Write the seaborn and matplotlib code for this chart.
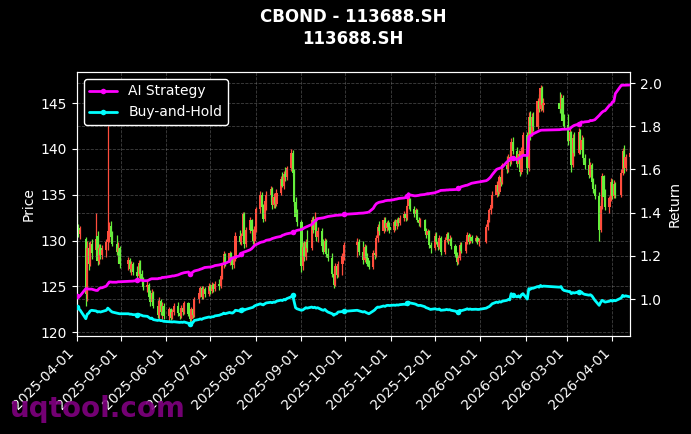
import matplotlib
matplotlib.use("Agg")
import matplotlib.pyplot as plt
import matplotlib.dates as mdates
import seaborn as sns
import pandas as pd
import numpy as np

# ---------------- data ----------------
title_text = "CBOND - 113688.SH\n113688.SH"
start_date = "2025-04-01"
end_date = "2026-04-13"
holidays = ["2025-04-04", "2025-05-01", "2025-05-02", "2025-05-05", "2025-06-02",
            "2025-10-01", "2025-10-02", "2025-10-03", "2025-10-06", "2025-10-07", "2025-10-08",
            "2026-01-01", "2026-01-02",
            "2026-02-16", "2026-02-17", "2026-02-18", "2026-02-19", "2026-02-20", "2026-02-23",
            "2026-04-06"]

opens = [
    132.2,131.4,130.7,130.2,124.2,129.2,127.5,129.6,129.0,130.5,127.8,129.2,128.4,129.0,129.8,131.0,131.6,130.4,129.6,128.8,129.2,
    127.4,127.9,126.9,127.5,126.6,126.1,127.6,126.4,125.6,124.9,125.2,123.9,123.3,124.3,122.9,121.9,123.4,122.2,122.9,
    121.8,122.5,121.6,122.2,122.9,122.1,121.8,122.7,122.2,123.2,122.0,121.4,122.5,121.9,123.6,124.3,124.8,123.9,124.7,124.2,
    125.1,124.5,125.2,124.7,125.3,125.0,126.1,127.3,128.5,127.6,128.6,127.8,127.3,128.0,130.5,129.9,130.5,132.9,129.6,131.2,132.2,131.0,130.0,
    131.2,133.4,135.0,133.7,132.4,134.3,135.0,135.6,133.9,134.8,134.0,135.2,136.7,136.0,137.3,136.9,137.9,139.6,137.4,134.2,132.6,
    132.0,127.2,129.3,128.2,129.8,129.2,132.2,131.2,132.4,130.4,131.1,129.4,128.8,130.0,128.5,128.1,126.4,125.2,127.2,126.3,127.5,128.3,
    129.5,129.9,128.8,127.9,129.3,128.1,127.5,127.1,128.7,128.4,130.3,131.5,131.0,132.3,131.4,131.9,131.5,
    131.2,132.0,131.6,132.2,131.9,132.5,132.9,132.5,133.8,134.5,133.5,132.9,133.3,132.3,131.9,132.2,131.1,130.6,131.0,129.5,
    129.2,130.5,129.9,129.3,130.3,128.8,130.1,130.7,130.0,130.2,129.4,128.5,127.7,128.1,129.5,128.9,129.9,130.6,129.9,130.4,130.0,130.3,129.8,
    129.9,131.5,132.3,133.3,133.9,135.0,136.1,135.3,136.9,136.4,138.2,137.8,139.1,138.6,140.8,139.8,138.4,139.5,137.5,139.8,
    141.5,137.9,143.5,141.6,143.5,142.4,145.2,144.4,146.6,144.8,145.0,144.4,145.6,143.0,
    142.6,140.9,141.8,138.3,141.2,139.6,141.8,139.9,141.0,139.0,138.3,137.2,138.2,136.4,135.6,134.9,131.2,133.8,137.0,134.8,133.7,134.6,
    136.4,134.9,136.2,135.0,137.4,139.8,137.9,139.1,
]
highs = [
    132.8,131.8,131.6,130.4,130.0,129.8,130.0,130.2,133.0,131.0,129.6,129.6,129.5,130.2,142.6,132.0,132.1,131.0,130.6,129.8,129.4,
    128.2,128.1,127.8,127.7,127.2,127.9,127.9,126.8,126.0,125.6,125.4,124.6,124.7,124.5,123.5,123.8,123.6,123.3,123.2,
    122.8,122.7,122.5,123.2,123.3,122.6,123.0,123.1,123.4,123.3,122.4,122.8,122.7,123.9,124.6,125.1,125.0,125.0,124.9,125.4,
    125.3,125.5,125.4,125.6,125.8,126.4,127.6,128.9,128.7,128.9,128.8,128.2,128.4,130.9,131.2,130.8,133.1,133.1,131.5,132.6,132.4,131.3,131.6,
    133.7,135.4,135.3,134.0,134.6,135.4,136.0,135.8,135.2,135.0,135.6,137.0,137.5,137.6,138.0,138.2,140.0,139.9,137.8,134.8,133.5,
    132.3,129.8,130.0,130.2,131.2,132.6,132.7,133.1,132.6,131.5,131.4,130.2,130.3,130.2,129.2,128.7,126.6,127.6,127.5,127.8,128.6,129.8,
    130.3,130.2,130.0,129.6,129.5,128.6,127.9,129.0,129.2,130.6,131.8,132.2,132.6,132.6,132.2,132.3,132.0,
    132.3,132.4,132.5,132.6,132.8,133.2,133.0,134.0,134.8,134.7,133.8,133.6,133.5,132.6,132.5,132.4,131.4,131.3,131.2,129.9,
    130.8,130.9,130.3,130.6,130.5,130.4,130.9,130.9,130.6,130.4,129.6,128.8,128.4,129.8,129.8,130.2,130.9,130.8,130.7,130.6,130.6,130.5,130.3,
    131.8,132.6,133.6,134.2,135.4,136.5,136.4,137.2,137.6,138.5,139.2,139.5,139.9,141.2,141.3,140.2,139.9,139.7,140.2,141.9,
    141.8,144.0,144.2,143.9,144.0,145.6,146.0,147.0,146.9,145.6,146.2,146.0,145.9,143.8,
    143.8,142.2,142.0,141.6,141.8,142.3,142.2,141.5,141.3,139.5,139.0,138.6,138.5,136.8,136.2,135.3,134.2,137.4,137.2,135.6,134.9,136.8,
    136.7,136.6,136.4,137.8,140.1,140.4,139.5,140.2,
]
lows = [
    131.0,130.4,130.2,122.9,123.4,126.8,127.2,128.0,128.2,127.3,127.4,128.0,128.0,128.2,129.0,129.8,130.0,129.4,128.4,127.6,127.0,
    126.8,126.6,126.2,126.3,125.8,125.9,126.0,125.3,124.6,124.4,123.6,122.9,123.0,122.6,121.6,121.5,121.9,121.4,121.5,
    121.2,121.3,121.4,121.9,121.8,121.5,121.6,121.9,122.0,121.8,121.1,121.2,121.6,121.7,123.2,123.8,123.6,123.6,123.9,124.0,
    124.2,124.3,124.4,124.5,124.6,124.8,125.8,127.0,127.2,127.3,127.4,126.9,127.0,127.8,129.6,129.5,130.2,129.2,129.3,130.8,130.6,129.6,129.6,
    130.9,133.0,133.3,132.0,132.2,133.3,134.2,133.5,133.6,133.6,133.8,135.0,135.8,135.6,136.5,136.6,137.6,137.0,133.8,132.1,131.6,
    126.6,126.8,127.8,127.9,128.8,129.0,130.8,130.9,130.0,129.8,129.0,128.5,128.6,128.2,127.8,126.0,124.8,125.0,125.9,126.0,126.3,127.9,
    128.2,128.4,127.5,127.7,127.8,127.2,126.9,126.9,128.0,128.2,129.9,130.6,130.8,131.0,131.0,131.2,130.8,
    130.9,131.2,131.3,131.6,131.7,132.2,132.2,132.3,133.5,133.2,132.6,132.5,132.0,131.6,131.5,130.8,130.3,130.2,129.2,128.7,
    129.0,129.6,129.0,129.1,128.4,128.5,129.8,129.6,129.5,129.1,128.2,127.3,127.4,127.9,128.6,128.7,129.6,129.6,129.7,129.7,129.8,129.6,129.4,
    129.7,131.2,132.0,132.9,133.6,134.8,134.9,135.1,136.0,136.2,137.4,137.5,138.2,138.4,139.4,138.0,137.8,137.1,137.3,139.5,
    137.3,137.6,141.0,141.4,142.0,142.2,144.0,144.2,144.3,144.0,143.9,144.0,142.5,142.3,
    140.4,140.6,137.5,138.0,139.2,139.4,139.5,139.7,138.6,137.8,136.8,136.9,136.0,135.2,134.5,130.0,130.9,133.5,134.4,133.3,133.0,134.3,
    134.5,134.6,134.6,134.8,137.2,137.4,137.6,138.3,
]
closes = [
    131.4,130.7,131.2,124.2,129.2,127.5,129.6,128.6,130.2,127.8,129.2,128.4,129.0,129.8,131.0,131.6,130.4,129.6,128.8,129.2,127.4,
    127.9,126.9,127.5,126.6,126.1,127.6,126.4,125.6,124.9,125.2,123.9,123.3,124.3,122.9,121.9,123.4,122.2,122.9,121.8,
    122.5,121.6,122.2,122.9,122.1,121.8,122.7,122.2,123.2,122.0,121.4,122.5,121.9,123.6,124.3,124.8,123.9,124.7,124.2,125.1,
    124.5,125.2,124.7,125.3,125.0,126.1,127.3,128.5,127.6,128.6,127.8,127.3,128.0,130.5,129.9,130.5,132.9,129.6,131.2,132.2,131.0,130.0,131.2,
    133.4,135.0,133.7,132.4,134.3,135.0,135.6,133.9,134.8,134.0,135.2,136.7,136.0,137.3,136.9,137.9,139.6,137.4,134.2,132.6,132.0,
    127.2,129.3,128.2,129.8,129.2,132.2,131.2,132.4,130.4,131.1,129.4,128.8,130.0,128.5,128.1,126.4,125.2,127.2,126.3,127.5,128.3,129.5,
    129.9,128.8,127.9,129.3,128.1,127.5,127.1,128.7,128.4,130.3,131.5,131.0,132.3,131.4,131.9,131.5,131.2,
    132.0,131.6,132.2,131.9,132.5,132.9,132.5,133.8,134.5,133.5,132.9,133.3,132.3,131.9,132.2,131.1,130.6,131.0,129.5,129.2,
    130.5,129.9,129.3,130.3,128.8,130.1,130.7,130.0,130.2,129.4,128.5,127.7,128.1,129.5,128.9,129.9,130.6,129.9,130.4,130.0,130.3,129.8,129.9,
    131.5,132.3,133.3,133.9,135.0,136.1,135.3,136.9,136.4,138.2,137.8,139.1,138.6,140.8,139.8,138.4,139.5,137.5,139.8,141.5,
    137.9,143.5,141.6,143.5,142.4,145.2,144.4,146.6,144.8,145.0,144.4,145.6,143.0,142.6,
    140.9,141.8,138.3,141.2,139.6,141.8,139.9,141.0,139.0,138.3,137.2,138.2,136.4,135.6,134.9,131.2,133.8,137.0,134.8,133.7,134.6,136.4,
    134.9,136.2,135.0,137.4,139.8,137.9,139.1,139.6,
]
ai_strategy = [
    1.014,1.014,1.014,1.048,1.048,1.046,1.046,1.046,1.040,1.040,1.048,1.052,1.052,1.060,1.070,1.079,1.079,1.078,1.078,1.080,1.080,
    1.082,1.082,1.083,1.083,1.086,1.086,1.087,1.087,1.085,1.085,1.088,1.092,1.094,1.094,1.094,1.096,1.096,1.100,1.100,
    1.104,1.105,1.107,1.107,1.112,1.115,1.118,1.120,1.122,1.125,1.118,1.120,1.125,1.130,1.135,1.138,1.140,1.143,1.146,1.148,
    1.148,1.150,1.152,1.155,1.158,1.160,1.162,1.164,1.165,1.175,1.187,1.190,1.192,1.195,1.200,1.210,1.215,1.218,1.220,1.228,1.233,1.240,1.248,
    1.252,1.262,1.264,1.265,1.268,1.272,1.276,1.280,1.282,1.284,1.286,1.290,1.295,1.297,1.300,1.302,1.306,1.310,1.312,1.315,1.318,
    1.322,1.325,1.330,1.333,1.336,1.345,1.352,1.360,1.364,1.372,1.375,1.376,1.378,1.380,1.382,1.385,1.386,1.387,1.388,1.388,1.390,1.392,
    1.396,1.397,1.398,1.399,1.400,1.401,1.403,1.420,1.432,1.441,1.445,1.448,1.452,1.455,1.456,1.457,1.457,
    1.460,1.462,1.463,1.465,1.466,1.468,1.470,1.476,1.488,1.482,1.478,1.478,1.479,1.480,1.482,1.484,1.486,1.488,1.488,1.489,
    1.492,1.495,1.497,1.500,1.503,1.504,1.505,1.505,1.506,1.506,1.507,1.508,1.512,1.516,1.520,1.526,1.527,1.530,1.533,1.536,1.540,1.541,1.542,
    1.548,1.552,1.558,1.565,1.575,1.600,1.603,1.605,1.608,1.611,1.634,1.640,1.645,1.653,1.653,1.645,1.650,1.655,1.660,1.665,
    1.665,1.750,1.755,1.760,1.765,1.775,1.778,1.781,1.782,1.782,1.784,1.785,1.786,1.786,
    1.787,1.788,1.795,1.800,1.804,1.810,1.815,1.820,1.818,1.820,1.822,1.827,1.826,1.828,1.830,1.850,1.858,1.865,1.870,1.872,1.897,1.900,
    1.912,1.915,1.951,1.989,1.990,1.990,1.990,1.991,
]
buy_and_hold = [
    0.963,0.955,0.950,0.909,0.930,0.935,0.945,0.948,0.945,0.940,0.942,0.940,0.942,0.948,0.958,0.952,0.945,0.940,0.935,0.933,0.932,
    0.932,0.930,0.930,0.928,0.927,0.930,0.927,0.925,0.922,0.920,0.915,0.910,0.912,0.905,0.901,0.903,0.900,0.900,0.897,
    0.895,0.894,0.894,0.895,0.893,0.892,0.893,0.892,0.894,0.888,0.886,0.890,0.891,0.901,0.905,0.908,0.906,0.910,0.912,0.917,
    0.915,0.918,0.918,0.922,0.925,0.928,0.930,0.935,0.932,0.938,0.936,0.935,0.940,0.948,0.945,0.948,0.955,0.948,0.952,0.958,0.960,0.962,0.968,
    0.971,0.978,0.975,0.973,0.978,0.982,0.985,0.983,0.986,0.985,0.990,0.995,0.993,0.998,0.996,1.002,1.010,1.018,0.990,0.960,0.955,
    0.948,0.950,0.955,0.960,0.958,0.963,0.960,0.962,0.958,0.960,0.950,0.948,0.952,0.945,0.940,0.932,0.925,0.930,0.932,0.940,0.942,0.943,
    0.948,0.946,0.940,0.942,0.938,0.935,0.932,0.945,0.950,0.958,0.963,0.962,0.968,0.966,0.970,0.971,0.970,
    0.972,0.971,0.973,0.972,0.974,0.976,0.975,0.980,0.986,0.982,0.978,0.976,0.972,0.970,0.971,0.965,0.960,0.958,0.955,0.952,
    0.955,0.953,0.952,0.954,0.948,0.950,0.952,0.950,0.951,0.948,0.944,0.940,0.942,0.948,0.946,0.952,0.955,0.952,0.954,0.952,0.953,0.952,0.952,
    0.958,0.962,0.965,0.971,0.978,0.986,0.984,0.988,0.986,0.990,0.994,0.998,0.996,1.025,1.020,1.010,1.015,1.008,1.020,1.025,
    1.000,1.048,1.045,1.051,1.050,1.058,1.055,1.063,1.058,1.060,1.055,1.058,1.045,1.040,
    1.035,1.035,1.025,1.030,1.028,1.033,1.028,1.032,1.025,1.022,1.018,1.020,1.015,1.005,0.995,0.971,0.985,0.994,0.990,0.986,0.990,0.994,
    0.990,0.994,0.992,1.005,1.017,1.012,1.015,1.010,
]
series_labels = ["AI Strategy", "Buy-and-Hold"]
price_ticks = [120, 125, 130, 135, 140, 145]
return_ticks = [1.0, 1.2, 1.4, 1.6, 1.8, 2.0]

# ---------------- trading calendar ----------------
dates = pd.bdate_range(start_date, end_date)
dates = dates[~dates.isin(pd.to_datetime(holidays))]
n = min(len(dates), len(closes))
dates = dates[:n]
df = pd.DataFrame({"date": dates, "open": opens[:n], "high": highs[:n], "low": lows[:n],
                   "close": closes[:n], "ai": ai_strategy[:n], "bh": buy_and_hold[:n]})

# ---------------- style ----------------
sns.set_theme(style="dark", context="notebook")
plt.rcParams.update({
    "figure.facecolor": "black", "axes.facecolor": "black", "savefig.facecolor": "black",
    "text.color": "white", "axes.labelcolor": "white", "axes.edgecolor": "white",
    "xtick.color": "white", "ytick.color": "white",
    "xtick.bottom": True, "ytick.left": True,
    "xtick.major.size": 3.5, "ytick.major.size": 3.5,
    "xtick.major.width": 0.8, "ytick.major.width": 0.8,
    "axes.linewidth": 0.8,
    "font.size": 10, "xtick.labelsize": 10, "ytick.labelsize": 10,
    "axes.labelsize": 10, "legend.fontsize": 10,
})
plt.rcParams["font.family"] = ["DejaVu Sans"]

fig = plt.figure(figsize=(6.91, 4.34), dpi=100)
ax = fig.add_axes([77 / 691, 98 / 434, 553 / 691, 264 / 434])

up = df["close"] >= df["open"]
colors = np.where(up, "#ff4d3d", "#66ee3c")
ax.vlines(df["date"], df["low"], df["high"], colors=colors, linewidth=0.9, zorder=2)
ax.bar(df["date"], (df["close"] - df["open"]).abs().clip(lower=0.15),
       bottom=df[["open", "close"]].min(axis=1), width=1.5, color=colors,
       linewidth=0, zorder=3)

ax.set_ylim(119.6, 148.4)
ax.set_yticks(price_ticks)
ax.set_xlim(df["date"].iloc[0], df["date"].iloc[-1])
ax.xaxis.set_major_locator(mdates.MonthLocator())
ax.xaxis.set_major_formatter(mdates.DateFormatter("%Y-%m-%d"))
plt.setp(ax.get_xticklabels(), rotation=45, ha="right")
ax.set_ylabel("Price")
ax.grid(True, linestyle="--", color="gray", alpha=0.5, linewidth=0.6)
for s in ax.spines.values():
    s.set_color("white")

ax2 = ax.twinx()
sns.lineplot(data=df, x="date", y="ai", ax=ax2, color="#ff00ff", linewidth=2,
             marker="o", markersize=4, markevery=25, markeredgewidth=0,
             label=series_labels[0], zorder=5)
sns.lineplot(data=df, x="date", y="bh", ax=ax2, color="#00ffff", linewidth=2,
             marker="o", markersize=4, markevery=25, markeredgewidth=0,
             label=series_labels[1], zorder=5)
ax2.set_ylim(0.829, 2.051)
ax2.set_yticks(return_ticks)
ax2.set_ylabel("Return")
ax2.set_xlabel("")
ax2.tick_params(axis="y", right=True, colors="white")
ax2.grid(True, axis="y", linestyle="--", color="gray", alpha=0.5, linewidth=0.6)
ax2.set_xlim(df["date"].iloc[0], df["date"].iloc[-1])
for s in ax2.spines.values():
    s.set_color("white")
ax.set_xlabel("")

leg = ax2.legend(loc="upper left", facecolor="black", edgecolor="white",
                 labelcolor="white", framealpha=1.0)

fig.text(353 / 691, 1 - 28 / 434, title_text, ha="center", va="center",
         fontsize=12, fontweight="bold", color="white", linespacing=1.3)
fig.text(10 / 691, 17 / 434, "uqtool.com", fontsize=20, fontweight="bold",
         color="purple", alpha=0.9, ha="left", va="baseline")

fig.savefig("out.png", dpi=100, facecolor="black")
